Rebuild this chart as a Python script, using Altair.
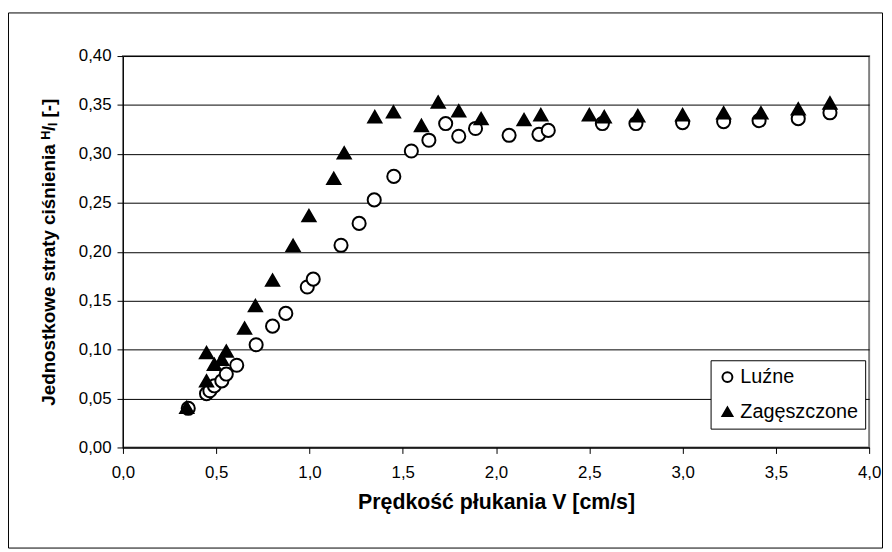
import altair as alt
import pandas as pd

series_names = ["Luźne", "Zagęszczone"]

luzne_v = [0.35, 0.448, 0.466, 0.49, 0.53, 0.554, 0.61, 0.714, 0.802, 0.873, 0.988, 1.02,
           1.169, 1.266, 1.347, 1.452, 1.546, 1.64, 1.73, 1.80, 1.89, 2.07, 2.23, 2.28,
           2.57, 2.75, 3.00, 3.22, 3.41, 3.62, 3.79]
luzne_h = [0.040, 0.055, 0.058, 0.063, 0.068, 0.075, 0.084, 0.105, 0.124, 0.137, 0.164, 0.172,
           0.2066, 0.229, 0.253, 0.277, 0.303, 0.314, 0.331, 0.318, 0.326, 0.319, 0.320, 0.324,
           0.331, 0.331, 0.332, 0.333, 0.334, 0.336, 0.342]

zag_v = [0.342, 0.448, 0.448, 0.49, 0.53, 0.554, 0.652, 0.71, 0.802, 0.912, 0.997, 1.13,
         1.186, 1.35, 1.45, 1.60, 1.69, 1.80, 1.92, 2.15, 2.24, 2.50, 2.58, 2.76, 3.00,
         3.22, 3.42, 3.62, 3.79]
zag_h = [0.041, 0.068, 0.097, 0.085, 0.090, 0.0985, 0.122, 0.145, 0.171, 0.2066, 0.237, 0.275,
         0.301, 0.338, 0.343, 0.329, 0.353, 0.344, 0.336, 0.335, 0.340, 0.340, 0.338, 0.339,
         0.340, 0.342, 0.342, 0.346, 0.352]

x_ticks = [0.0, 0.5, 1.0, 1.5, 2.0, 2.5, 3.0, 3.5, 4.0]
y_ticks = [0.0, 0.05, 0.10, 0.15, 0.20, 0.25, 0.30, 0.35, 0.40]

df = pd.DataFrame({
    "v": luzne_v + zag_v,
    "h": luzne_h + zag_h,
    "series": [series_names[0]] * len(luzne_v) + [series_names[1]] * len(zag_v),
})

FONT = "Liberation Sans, Arial, sans-serif"

legend = alt.Legend(
    title=None, orient="none", legendX=593, legendY=307,
    symbolStrokeColor="black", symbolStrokeWidth=2,
)

points = alt.Chart(df).mark_point(strokeWidth=2, opacity=1, size=175).encode(
    x=alt.X("v:Q", scale=alt.Scale(domain=[0, 4], nice=False, zero=False),
            axis=alt.Axis(values=x_ticks, grid=False, tickSize=6, labelPadding=11,
                          labelFlush=False,
                          labelExpr="replace(format(datum.value, '.1f'), '.', ',')",
                          title="Prędkość płukania V [cm/s]", titlePadding=12)),
    y=alt.Y("h:Q", scale=alt.Scale(domain=[0, 0.4], nice=False),
            axis=alt.Axis(values=y_ticks, grid=True, tickSize=6, labelPadding=6,
                          labelExpr="replace(format(datum.value, '.2f'), '.', ',')",
                          title="Jednostkowe straty ciśnienia ᴴ/ₗ [-]", titlePadding=20)),
    shape=alt.Shape("series:N", scale=alt.Scale(domain=series_names, range=["circle", "triangle-up"]),
                    legend=legend),
    fill=alt.Fill("series:N", scale=alt.Scale(domain=series_names, range=["white", "black"]),
                  legend=legend),
    stroke=alt.Stroke("series:N", scale=alt.Scale(domain=series_names, range=["black", "black"]),
                      legend=legend),
)

frame = alt.Chart(alt.Data(values=[{"a": 1}])).mark_rect(
    fill="white", fillOpacity=0, stroke="black", strokeWidth=1
).encode(
    x=alt.value(-115.5), x2=alt.value(766.5), y=alt.value(-43.5), y2=alt.value(496.5)
)

chart = alt.layer(frame, points).properties(
    width=753, height=395,
    autosize=alt.AutoSizeParams(type="none"),
    padding={"left": 116, "top": 46, "right": 15, "bottom": 103},
    background="white",
).configure_view(
    stroke="#808080", strokeWidth=2
).configure_axis(
    labelFont=FONT, labelFontSize=17, labelColor="black",
    titleFont=FONT, titleFontSize=21.5, titleFontWeight="bold", titleColor="black",
    domainColor="black", tickColor="black", gridColor="black", gridWidth=1,
    labelOverlap=False,
).configure_axisY(
    titleFontSize=19
).configure_legend(
    fillColor="white", strokeColor="black", padding=7,
    symbolSize=100, symbolStrokeWidth=2, symbolStrokeColor="black",
    labelFontSize=20, labelFont=FONT, labelColor="black",
    rowPadding=15, labelOffset=3, symbolOffset=0,
)

chart.save("out.html", embed_options={"renderer": "svg", "actions": False})
